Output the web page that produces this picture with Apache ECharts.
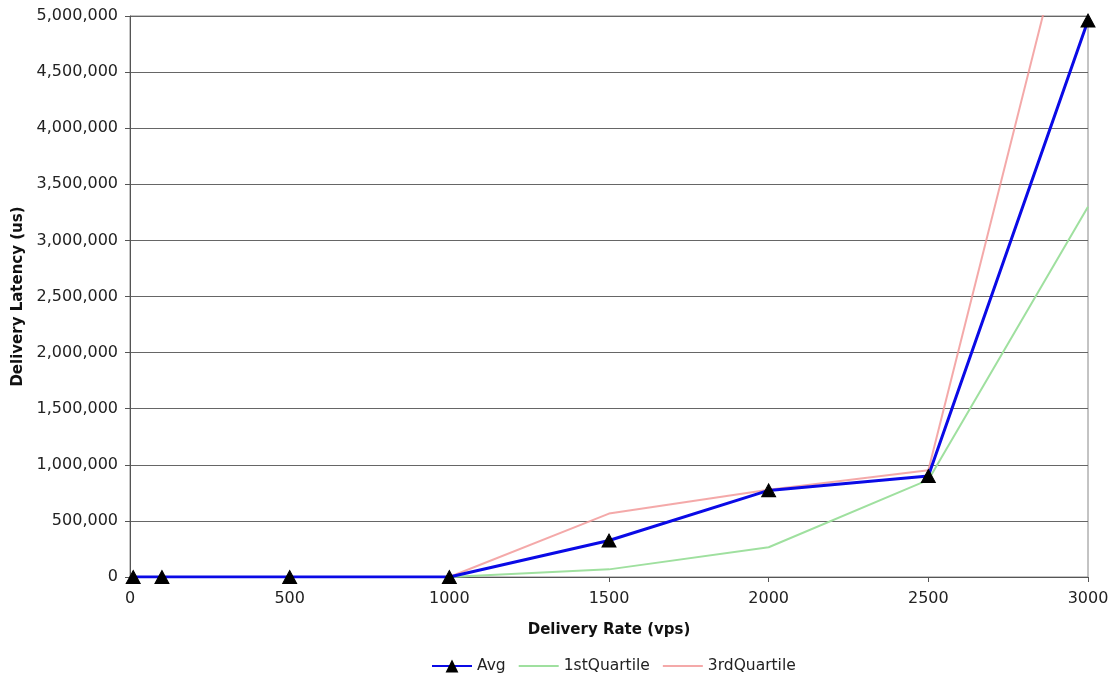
<!DOCTYPE html>
<html>
<head>
<meta charset="utf-8">
<script src="https://cdn.jsdelivr.net/npm/echarts@6/dist/echarts.min.js"></script>
<style>
  html, body { margin: 0; padding: 0; background: #fff; }
  #chart { width: 1118px; height: 679px; }
</style>
</head>
<body>
<div id="chart"></div>
<script>
// Delivery rate (vps) sample points
const rates = [10, 100, 500, 1000, 1500, 2000, 2500, 3000];
// Delivery latency (us)
const avgLatency = [0, 0, 0, 0, 325000, 772000, 900000, 4960000];
const q1Latency = [0, 0, 0, 0, 68000, 265000, 865000, 3300000];
const q3Latency = [0, 0, 0, 0, 565000, 778000, 952000, 6600000];

const seriesNames = ['Avg', '1stQuartile', '3rdQuartile'];

const pairs = (ys) => rates.map((x, i) => [x, ys[i]]);
const font = 'DejaVu Sans, Verdana, sans-serif';

const chart = echarts.init(document.getElementById('chart'));
chart.setOption({
  animation: false,
  backgroundColor: '#fff',
  textStyle: { fontFamily: font },
  grid: {
    left: 130, right: 30, top: 16, bottom: 102,
    show: true, borderColor: '#888', borderWidth: 1, backgroundColor: 'transparent'
  },
  legend: {
    data: [
      { name: seriesNames[0] },
      { name: seriesNames[1], itemStyle: { opacity: 0 } },
      { name: seriesNames[2], itemStyle: { opacity: 0 } }
    ],
    bottom: 0,
    left: 426,
    itemWidth: 40,
    itemHeight: 16,
    itemGap: 12,
    textStyle: { fontFamily: font, fontSize: 15.5, color: '#222' }
  },
  xAxis: {
    type: 'value',
    min: 0, max: 3000, interval: 500,
    name: 'Delivery Rate (vps)',
    nameLocation: 'middle',
    nameGap: 46,
    nameTextStyle: { fontFamily: font, fontSize: 15, fontWeight: 'bold', color: '#111' },
    axisLine: { show: true, onZero: false, lineStyle: { color: '#555', width: 1 } },
    axisTick: { show: true, length: 5, lineStyle: { color: '#555' } },
    axisLabel: {
      fontFamily: font, fontSize: 16, color: '#222', margin: 14,
      formatter: (v) => String(v)
    },
    splitLine: { show: false }
  },
  yAxis: {
    type: 'value',
    min: 0, max: 5000000, interval: 500000,
    name: 'Delivery Latency (us)',
    nameLocation: 'middle',
    nameGap: 103,
    nameTextStyle: { fontFamily: font, fontSize: 15, fontWeight: 'bold', color: '#111' },
    axisLine: { show: true, lineStyle: { color: '#555', width: 1 } },
    axisTick: { show: true, length: 5, lineStyle: { color: '#555' } },
    axisLabel: {
      fontFamily: font, fontSize: 16, color: '#222', margin: 12,
      formatter: (v) => v.toLocaleString('en-US')
    },
    splitLine: { show: true, lineStyle: { color: '#666', width: 1 } }
  },
  series: [
    {
      name: '1stQuartile',
      type: 'line',
      data: pairs(q1Latency),
      symbol: 'none',
      lineStyle: { color: '#9fe09f', width: 2 },
      itemStyle: { color: '#9fe09f' },
      z: 2
    },
    {
      name: 'Avg',
      type: 'line',
      data: pairs(avgLatency),
      symbol: 'triangle',
      symbolSize: [14, 13],
      lineStyle: { color: '#0a0ae6', width: 3 },
      itemStyle: { color: '#000', borderColor: '#000' },
      z: 3
    },
    {
      name: '3rdQuartile',
      type: 'line',
      data: pairs(q3Latency),
      symbol: 'none',
      lineStyle: { color: '#f29a9a', width: 2, opacity: 0.85 },
      itemStyle: { color: '#f29a9a' },
      z: 2
    }
  ]
});
</script>
</body>
</html>
